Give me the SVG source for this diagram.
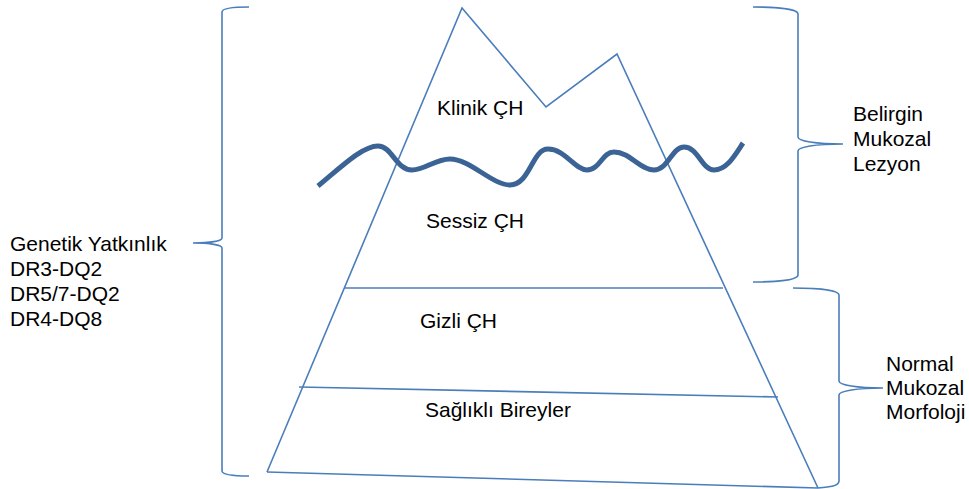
<svg xmlns="http://www.w3.org/2000/svg" width="969" height="489" viewBox="0 0 969 489">
  <style>
    .ln { fill: none; stroke: #4a7ebb; stroke-width: 1.6; stroke-linejoin: miter; }
    .wave { fill: none; stroke: #3b6395; stroke-width: 5; stroke-linecap: butt; stroke-linejoin: round; }
    .tx { font-family: "Liberation Sans", Arial, sans-serif; font-size: 21px; fill: #000; }
  </style>
  <rect width="969" height="489" fill="#fff"/>

  <!-- Iceberg outline with layer dividers -->
  <g id="iceberg">
    <polyline class="ln" points="267,472 462,8 546,107 617,54 818,488"/>
    <line class="ln" x1="267" y1="472" x2="818" y2="488"/>
    <line class="ln" x1="344" y1="288" x2="723" y2="288"/>
    <line class="ln" x1="299" y1="387" x2="778" y2="397"/>
  </g>

  <!-- Water line -->
  <g id="waterline">
    <path class="wave" d="M318,186 C340,168 362,146 378,146 C392,146 396,170 412,170 C425,170 435,159 450,159 C470,159 492,185 510,185 C530,185 532,149 548,149 C565,149 575,170 587,170 C600,170 602,152 614,152 C630,152 640,170 654,170 C668,170 672,147 684,147 C698,147 702,170 714,170 C727,170 735,155 743,143"/>
  </g>

  <!-- Layer labels -->
  <g id="klinik"><text class="tx" x="437" y="115">Klinik ÇH</text></g>
  <g id="sessiz"><text class="tx" x="426" y="228">Sessiz ÇH</text></g>
  <g id="gizli"><text class="tx" x="420" y="328">Gizli ÇH</text></g>
  <g id="saglikli"><text class="tx" x="425" y="417">Sağlıklı Bireyler</text></g>

  <!-- Braces -->
  <g id="brace-genetik">
    <path class="ln" d="M249,7 C234,7 222,8 222,12 L222,238 C222,241 210,243 193,243 C210,243 222,245 222,248 L222,471 C222,475 234,476 249,476"/>
  </g>
  <g id="brace-belirgin">
    <path class="ln" d="M753,7 C778,7 798,9 798,14 L798,137 C798,141 815,144 843,144 C815,144 798,147 798,151 L798,275 C798,280 778,282 753,282"/>
  </g>
  <g id="brace-normal">
    <path class="ln" d="M793,288 C818,288 839,290 839,295 L839,381 C839,385 857,388 883,388 C857,388 839,391 839,395 L839,481 C839,486 830,487 818,488"/>
  </g>

  <!-- Side labels -->
  <g id="genetik">
    <text class="tx" x="10" y="251">Genetik Yatkınlık</text>
    <text class="tx" x="10" y="276">DR3-DQ2</text>
    <text class="tx" x="10" y="301">DR5/7-DQ2</text>
    <text class="tx" x="10" y="326">DR4-DQ8</text>
  </g>
  <g id="belirgin">
    <text class="tx" x="853" y="121">Belirgin</text>
    <text class="tx" x="853" y="146">Mukozal</text>
    <text class="tx" x="853" y="171">Lezyon</text>
  </g>
  <g id="normal">
    <text class="tx" x="886" y="371">Normal</text>
    <text class="tx" x="886" y="395">Mukozal</text>
    <text class="tx" x="886" y="419">Morfoloji</text>
  </g>
</svg>
